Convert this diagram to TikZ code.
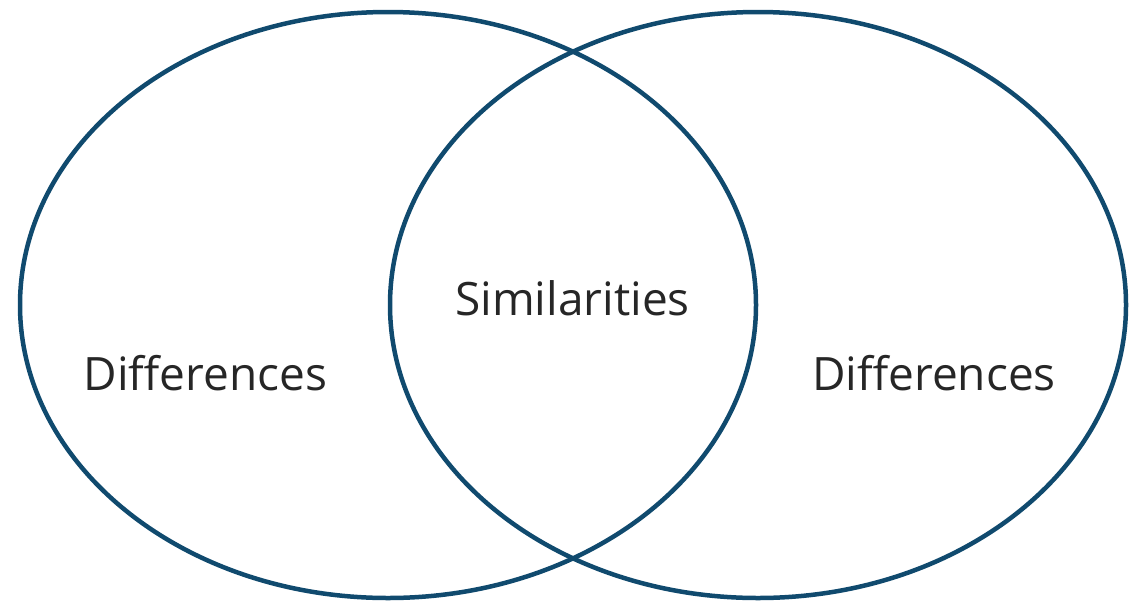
\documentclass[tikz,border=0pt]{standalone}
\usepackage{fontspec}
\setmainfont{Open Sans}
\definecolor{venn}{RGB}{16,74,110}
\definecolor{txt}{RGB}{38,38,38}
\begin{document}
\begin{tikzpicture}[x=1pt,y=-1pt,
  vennset/.style={draw=venn,line width=4.5pt},
  lbl/.style={anchor=base,text=txt,inner sep=0pt,font=\fontsize{46}{54}\selectfont}]
\useasboundingbox (0,0) rectangle (1145,603);
\draw[vennset] (388,305) ellipse [x radius=368, y radius=293];
\draw[vennset] (758,305) ellipse [x radius=368, y radius=293];
\node[lbl] (sim) at (572.5,315) {Similarities};
\node[lbl] (difL) at (205.5,390) {Differences};
\node[lbl] (difR) at (934,390) {Differences};
\end{tikzpicture}
\end{document}
